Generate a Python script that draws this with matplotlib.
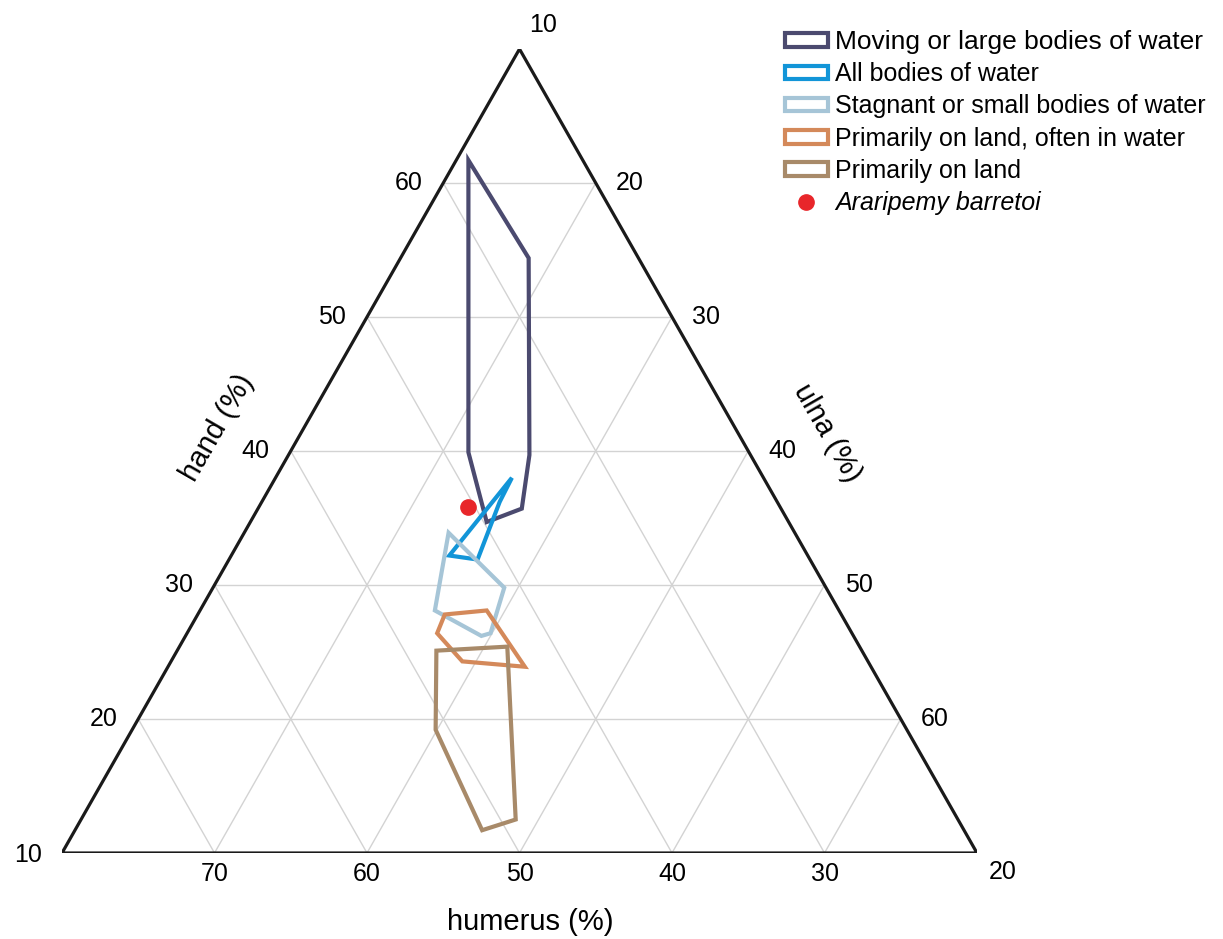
import numpy as np
import matplotlib
matplotlib.use("Agg")
from matplotlib import pyplot as plt
import matplotlib.patches as mpatches
from matplotlib.lines import Line2D

plt.rcParams['font.family'] = ['Liberation Sans', 'DejaVu Sans']

# --- Data: ternary vertices as (humerus, ulna, hand) in % ---

moving_large = [(27.5, 10.8, 61.7), (27.2, 18.4, 54.4), (34.5, 25.8, 39.7),
                (37.0, 27.3, 35.7), (39.8, 25.5, 34.7), (38.4, 21.7, 39.9)]
all_bodies = [(36.5, 25.5, 38.0), (43.5, 24.3, 32.2), (41.8, 26.3, 31.9),
              (38.2, 25.6, 36.2)]
stagnant_small = [(42.7, 23.4, 33.9), (41.1, 29.1, 29.8), (43.7, 29.9, 26.4),
                  (44.4, 29.4, 26.2), (46.5, 25.4, 28.1)]
land_often_water = [(46.0, 26.2, 27.8), (43.1, 28.8, 28.1), (42.7, 33.4, 23.9),
                    (46.6, 29.1, 24.3), (47.2, 26.4, 26.4)]
land = [(47.9, 27.0, 25.1), (43.1, 31.5, 25.4), (49.0, 38.5, 12.5),
        (51.6, 36.7, 11.7), (50.9, 29.9, 19.2)]
araripemys = (40.5, 23.7, 35.8)

group_names = ["Moving or large bodies of water", "All bodies of water",
               "Stagnant or small bodies of water", "Primarily on land, often in water",
               "Primarily on land"]
group_colors = ["#4b4a6f", "#1295d8", "#a6c5d7", "#d4895a", "#a88a69"]
point_name = "Araripemy barretoi"

# axis ranges (each component spans 60 %)
humerus_min, ulna_min, hand_min = 20, 10, 10
span = 60
humerus_ticks = [70, 60, 50, 40, 30]
ulna_ticks = [20, 30, 40, 50, 60]
hand_ticks = [20, 30, 40, 50, 60]


def to_xy(humerus, ulna, hand):
    t = (hand - hand_min) / span
    s = (ulna - ulna_min) / span
    return s + t / 2.0, t


fig = plt.figure(figsize=(12.23, 9.39), dpi=100)
ax = fig.add_axes([62 / 1223, 86 / 939, 915 / 1223, 804 / 939])
ax.set_xlim(0, 1)
ax.set_ylim(0, 1)
ax.axis('off')

# --- grid ---
grid_col = '#d3d3d3'
for v in range(20, 70, 10):
    # constant hand
    a = to_xy(100 - v - ulna_min, ulna_min, v)
    b = to_xy(humerus_min, 100 - v - humerus_min, v)
    ax.plot([a[0], b[0]], [a[1], b[1]], color=grid_col, lw=1.0, zorder=1)
for v in range(20, 80, 10):
    # constant ulna
    a = to_xy(100 - v - hand_min, v, hand_min)
    b = to_xy(humerus_min, v, 100 - v - humerus_min)
    ax.plot([a[0], b[0]], [a[1], b[1]], color=grid_col, lw=1.0, zorder=1)
for v in range(30, 80, 10):
    # constant humerus
    a = to_xy(v, 100 - v - hand_min, hand_min)
    b = to_xy(v, ulna_min, 100 - v - ulna_min)
    ax.plot([a[0], b[0]], [a[1], b[1]], color=grid_col, lw=1.0, zorder=1)

# --- triangle frame ---
corners = [to_xy(80, 10, 10), to_xy(20, 70, 10), to_xy(20, 10, 70)]
tri = mpatches.Polygon(corners, closed=True, fill=False, edgecolor='#1a1a1a',
                       lw=2.3, zorder=3, joinstyle='miter')
ax.add_patch(tri)

# --- tick labels ---
fs_tick = 18
for v in humerus_ticks:
    ax.annotate(str(v), to_xy(v, 100 - v - hand_min, hand_min), xytext=(0, -21),
                textcoords='offset pixels', ha='center', va='center', fontsize=fs_tick)
for v in hand_ticks:
    ax.annotate(str(v), to_xy(100 - v - ulna_min, ulna_min, v), xytext=(-35, 0),
                textcoords='offset pixels', ha='center', va='center', fontsize=fs_tick)
for v in ulna_ticks:
    ax.annotate(str(v), to_xy(humerus_min, v, 100 - v - humerus_min), xytext=(34, 0),
                textcoords='offset pixels', ha='center', va='center', fontsize=fs_tick)
# corner labels
ax.annotate("10", to_xy(20, 10, 70), xytext=(24, 24), textcoords='offset pixels',
            ha='center', va='center', fontsize=fs_tick)
ax.annotate("10", to_xy(80, 10, 10), xytext=(-34, -2), textcoords='offset pixels',
            ha='center', va='center', fontsize=fs_tick)
ax.annotate("20", to_xy(20, 70, 10), xytext=(26, -19), textcoords='offset pixels',
            ha='center', va='center', fontsize=fs_tick)

# --- axis titles ---
fs_title = 21
fig.text(530 / 1223, 1 - 922 / 939, "humerus (%)", ha='center', va='center', fontsize=fs_title)
fig.text(217 / 1223, 1 - 428 / 939, "hand (%)", ha='center', va='center',
         fontsize=fs_title, rotation=60)
fig.text(827 / 1223, 1 - 433 / 939, "ulna (%)", ha='center', va='center',
         fontsize=fs_title, rotation=-60)

# --- polygons ---
groups = [moving_large, all_bodies, stagnant_small, land_often_water, land]
handles = []
for name, pts, col in zip(group_names, groups, group_colors):
    xy = [to_xy(*p) for p in pts]
    ax.add_patch(mpatches.Polygon(xy, closed=True, fill=False, edgecolor=col,
                                  lw=3.0, zorder=4))
    handles.append(mpatches.Patch(facecolor='white', edgecolor=col, linewidth=3.0, label=name))

px, py = to_xy(*araripemys)
ax.plot(px, py, 'o', color='#e8262a', ms=11, zorder=6, clip_on=False)
handles.append(Line2D([], [], marker='o', color='#e8262a', ls='none', ms=11, label=point_name))

leg = fig.legend(handles=handles, loc='upper left', bbox_to_anchor=(785 / 1223, 1 - 30 / 939),
                 frameon=False, fontsize=18, handlelength=1.7, handleheight=0.45,
                 handletextpad=0.3, labelspacing=0.33, borderpad=0, borderaxespad=0)
leg.get_texts()[-1].set_style('italic')
leg.get_texts()[0].set_fontsize(19)

fig.savefig("out.png", dpi=100)
